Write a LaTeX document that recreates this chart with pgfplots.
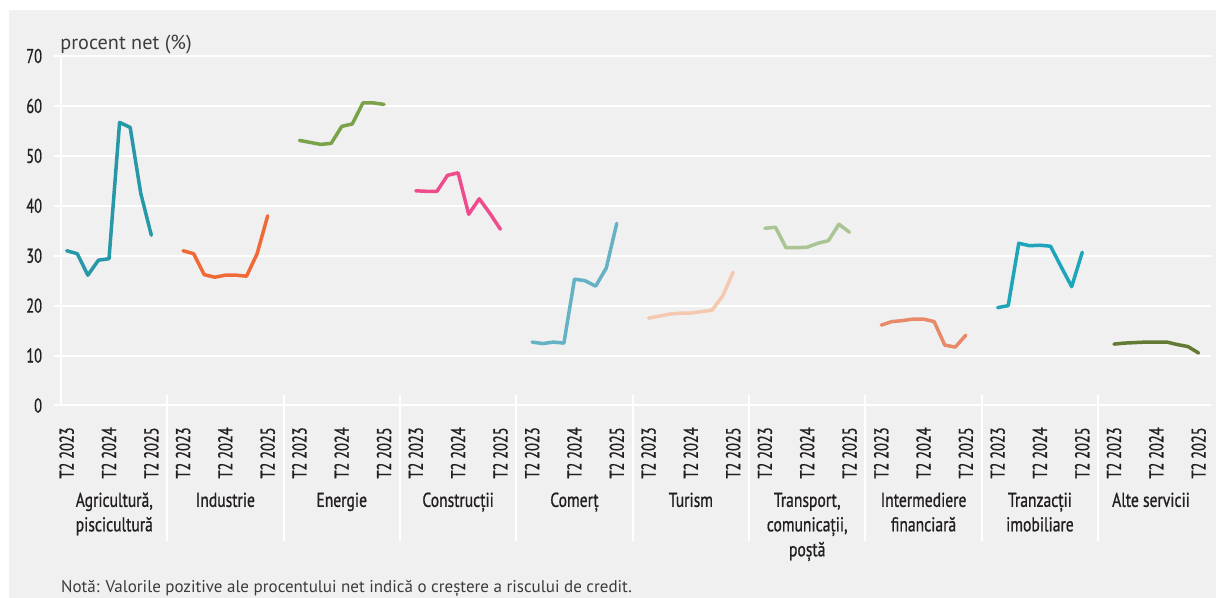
\documentclass[border=0pt]{standalone}
\usepackage{fontspec}
\setmainfont{PT Sans}
\newfontfamily\lblfont[FakeBold=1]{PT Sans}
\usepackage{graphicx}
\usepackage{pgfplots}
\pgfplotsset{compat=1.18}

\definecolor{bgc}{RGB}{240,240,240}
\definecolor{txt}{RGB}{35,31,32}
\definecolor{notec}{RGB}{60,60,60}
\definecolor{cAgr}{RGB}{38,152,168}
\definecolor{cInd}{RGB}{240,106,56}
\definecolor{cEne}{RGB}{122,162,72}
\definecolor{cCon}{RGB}{238,76,140}
\definecolor{cCom}{RGB}{100,178,195}
\definecolor{cTur}{RGB}{245,200,176}
\definecolor{cTra}{RGB}{170,196,148}
\definecolor{cInt}{RGB}{232,138,106}
\definecolor{cImo}{RGB}{30,165,185}
\definecolor{cAlt}{RGB}{98,122,52}

% narrow settings for tick and category labels
\newcommand\tk[1]{\scalebox{0.72}[1]{#1}}
\newcommand\ct[1]{\scalebox{0.78}[1]{#1}}
\tikzset{cat/.style={anchor=base, inner sep=0pt, text=txt, font=\lblfont\fontsize{10}{12}\selectfont}}

\begin{document}
\begin{tikzpicture}
\fill[white] (0,0) rectangle (608pt,299pt);
\fill[bgc] (4.5pt,0) rectangle (608pt,294pt);
\begin{axis}[
  at={(30.705pt,96.25pt)}, anchor=south west,
  scale only axis, width=571.25pt, height=174.75pt,
  xmin=-0.5, xmax=107.5, ymin=0, ymax=70,
  clip=false,
  axis line style={draw=none},
  ymajorgrids, grid style={white, line width=1pt},
  ytick={0,10,...,70},
  yticklabels={\tk{0},\tk{10},\tk{20},\tk{30},\tk{40},\tk{50},\tk{60},\tk{70}},
  ytick style={white, line width=1pt},
  tick align=outside, major tick length=3.5pt,
  xtick style={draw=none},
  xtick={0,4,8,11,15,19,22,26,30,33,37,41,44,48,52,55,59,63,66,70,74,77,81,85,88,92,96,99,103,107},
  xticklabels={\tk{T2 2023},\tk{T2 2024},\tk{T2 2025},\tk{T2 2023},\tk{T2 2024},\tk{T2 2025},
               \tk{T2 2023},\tk{T2 2024},\tk{T2 2025},\tk{T2 2023},\tk{T2 2024},\tk{T2 2025},
               \tk{T2 2023},\tk{T2 2024},\tk{T2 2025},\tk{T2 2023},\tk{T2 2024},\tk{T2 2025},
               \tk{T2 2023},\tk{T2 2024},\tk{T2 2025},\tk{T2 2023},\tk{T2 2024},\tk{T2 2025},
               \tk{T2 2023},\tk{T2 2024},\tk{T2 2025},\tk{T2 2023},\tk{T2 2024},\tk{T2 2025}},
  tick label style={font=\lblfont\fontsize{10}{12}\selectfont, text=txt},
  xticklabel style={rotate=90, anchor=east, inner sep=0pt},
  xticklabel shift=7.25pt,
  yticklabel style={anchor=east, inner sep=0pt, xshift=-6pt},
  every axis plot/.append style={line width=1.75pt, line join=round, line cap=round},
]
% white frame line on the left and group dividers
\draw[white, line width=1pt] (axis cs:-0.5,0) -- (axis cs:-0.5,70);
\pgfplotsinvokeforeach{9.5,20.5,31.5,42.5,53.5,64.5,75.5,86.5,97.5}{
  \draw[white, line width=1pt] (axis cs:#1,2.1) -- (axis cs:#1,-27.1);
}

% Agricultură, piscicultură
\addplot[cAgr] coordinates {(0,31.0) (1,30.4) (2,26.1) (3,29.1) (4,29.4) (5,56.7) (6,55.7) (7,42.5) (8,34.1)};
% Industrie
\addplot[cInd] coordinates {(11,31.0) (12,30.4) (13,26.2) (14,25.7) (15,26.1) (16,26.1) (17,25.9) (18,30.4) (19,38.0)};
% Energie
\addplot[cEne] coordinates {(22,53.1) (23,52.7) (24,52.3) (25,52.5) (26,55.9) (27,56.4) (28,60.6) (29,60.6) (30,60.3)};
% Construcții
\addplot[cCon] coordinates {(33,43.0) (34,42.9) (35,42.9) (36,46.1) (37,46.6) (38,38.3) (39,41.4) (40,38.5) (41,35.3)};
% Comerț
\addplot[cCom] coordinates {(44,12.7) (45,12.4) (46,12.7) (47,12.5) (48,25.3) (49,25.0) (50,23.9) (51,27.5) (52,36.5)};
% Turism
\addplot[cTur] coordinates {(55,17.5) (56,17.9) (57,18.3) (58,18.5) (59,18.5) (60,18.8) (61,19.1) (62,21.9) (63,26.7)};
% Transport, comunicații, poștă
\addplot[cTra] coordinates {(66,35.5) (67,35.7) (68,31.6) (69,31.6) (70,31.7) (71,32.5) (72,33.0) (73,36.3) (74,34.7)};
% Intermediere financiară
\addplot[cInt] coordinates {(77,16.1) (78,16.8) (79,17.0) (80,17.3) (81,17.3) (82,16.8) (83,12.1) (84,11.7) (85,14.1)};
% Tranzacții imobiliare
\addplot[cImo] coordinates {(88,19.6) (89,20.0) (90,32.5) (91,32.0) (92,32.1) (93,31.9) (94,27.8) (95,23.8) (96,30.7)};
% Alte servicii
\addplot[cAlt] coordinates {(99,12.3) (100,12.5) (101,12.6) (102,12.7) (103,12.7) (104,12.7) (105,12.2) (106,11.8) (107,10.5)};

% sector names under the quarter labels
\node[cat] at (axis cs:4.5,-20.3) {\ct{Agricultură,}};
\node[cat] at (axis cs:4.5,-25.2) {\ct{piscicultură}};
\node[cat] at (axis cs:15,-20.3) {\ct{Industrie}};
\node[cat] at (axis cs:26,-20.3) {\ct{Energie}};
\node[cat] at (axis cs:37,-20.3) {\ct{Construcții}};
\node[cat] at (axis cs:48,-20.3) {\ct{Comerț}};
\node[cat] at (axis cs:59,-20.3) {\ct{Turism}};
\node[cat] at (axis cs:70,-20.3) {\ct{Transport,}};
\node[cat] at (axis cs:70,-25.2) {\ct{comunicații,}};
\node[cat] at (axis cs:70,-30.2) {\ct{poștă}};
\node[cat] at (axis cs:81,-20.3) {\ct{Intermediere}};
\node[cat] at (axis cs:81,-25.2) {\ct{financiară}};
\node[cat] at (axis cs:92,-20.3) {\ct{Tranzacții}};
\node[cat] at (axis cs:92,-25.2) {\ct{imobiliare}};
\node[cat] at (axis cs:102.5,-20.3) {\ct{Alte servicii}};
\end{axis}

\node[anchor=base west, inner sep=0pt, text=notec, font=\fontsize{10.1}{12}\selectfont] at (30pt,274pt) {procent net (\%)};
\node[anchor=base west, inner sep=0pt, text=notec, font=\fontsize{8.5}{10}\selectfont] at (30.35pt,2.5pt)
  {Notă: Valorile pozitive ale procentului net indică o creștere a riscului de credit.};

\pgfresetboundingbox
\path[use as bounding box] (0,0) rectangle (608pt,299pt);
\end{tikzpicture}
\end{document}
